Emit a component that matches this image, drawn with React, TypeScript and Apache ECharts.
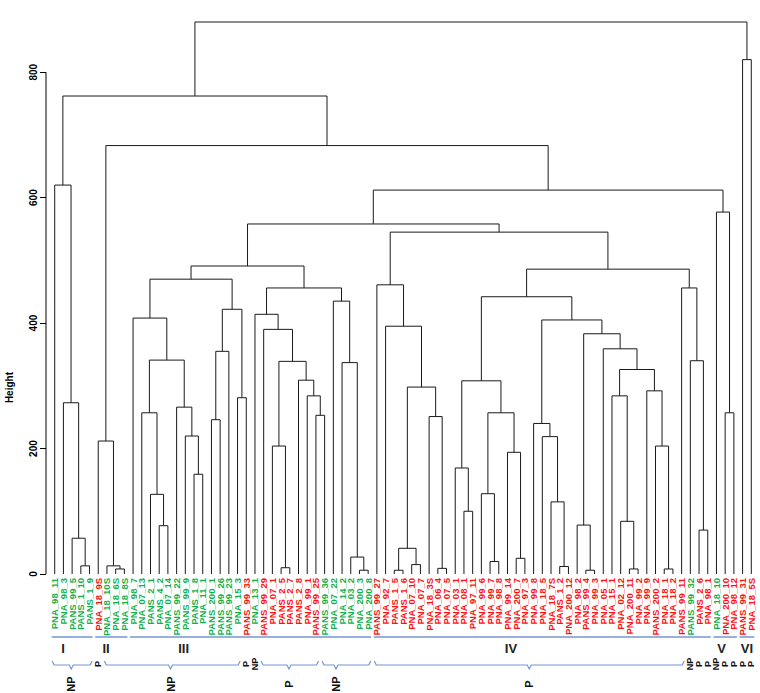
import React, { useEffect, useRef } from "react";
import * as echarts from "echarts";

// ---------- data ----------
const leafLabels = [
  "PNA_98_11","PNA_98_3","PANS_99_5","PANS_1_10","PANS_1_9","PNA_18_9S","PNA_18_10S","PNA_18_6S","PNA_18_8S",
  "PNA_98_7","PNA_07_13","PANS_2_1","PANS_4_2","PNA_07_14","PANS_99_22","PANS_99_9","PANS_1_8","PNA_11_1",
  "PANS_200_1","PANS_99_26","PANS_99_23","PNA_15_3","PANS_99_33","PNA_13_1","PANS_99_29","PNA_07_1","PANS_2_5",
  "PANS_2_7","PANS_2_8","PNA_99_1","PANS_99_25","PANS_99_36","PNA_07_22","PNA_14_2","PNA_03_2","PNA_200_3",
  "PNA_200_8","PANS_99_27","PNA_92_7","PANS_1_5","PANS_1_6","PNA_07_10","PNA_07_7","PNA_18_3S","PNA_06_4",
  "PNA_07_5","PNA_03_1","PNA_08_1","PNA_97_11","PNA_99_6","PNA_99_7","PNA_98_8","PNA_99_14","PNA_200_7",
  "PNA_97_3","PNA_99_8","PNA_18_5","PNA_18_7S","PANS_1_2","PNA_200_12","PNA_98_2","PANS_99_4","PNA_99_3",
  "PNA_05_1","PNA_15_1","PNA_02_12","PNA_200_11","PNA_99_2","PNA_99_9","PANS_200_2","PNA_18_1","PNA_18_2",
  "PANS_99_11","PANS_99_32","PANS_2_6","PNA_98_1","PNA_18_10","PNA_200_10","PNA_98_12","PANS_99_31","PNA_18_5S",
];

const leafGroup = [
  "NP","NP","NP","NP","NP","P","NP","NP","NP",
  "NP","NP","NP","NP","NP","NP","NP","NP","NP",
  "NP","NP","NP","NP","P","NP","P","P","P",
  "P","P","P","P","NP","NP","NP","NP","NP",
  "NP","P","P","P","P","P","P","P","P",
  "P","P","P","P","P","P","P","P","P",
  "P","P","P","P","P","P","P","P","P",
  "P","P","P","P","P","P","P","P","P",
  "P","NP","P","P","NP","P","P","P","P",
];

// hclust-style merges: negative = leaf (1-based position), positive = earlier merge (1-based)
const mergeLeft = [
  -4, -3, -2, -1, -8, -7, -6, -13, -12, -11,
  -17, -16, -15, 10, -10, -19, 16, -22, 17, -27,
  -26, -31, -30, -29, 21, -25, -24, -36, -35, -34,
  -33, 27, 15, 33, -40, -42, 35, -45, -44, 37,
  -39, -38, -48, -47, -51, -50, -54, -53, 46, 44,
  -59, -58, -57, -56, -62, -61, -67, -66, -65, -71,
  -70, -69, 59, -64, 56, 54, 50, -75, -74, -73,
  67, 42, 34, -78, -77, 73, 7, 4, -80, 78,
];
const mergeRight = [
  -5, 1, 2, 3, -9, 5, 6, -14, 8, 9,
  -18, 11, 12, 13, 14, -20, -21, -23, 18, -28,
  20, -32, 22, 23, 24, 25, 26, -37, 28, 29,
  30, 31, 19, 32, -41, -43, 36, -46, 38, 39,
  40, 41, -49, 43, -52, 45, -55, 47, 48, 49,
  -60, 51, 52, 53, -63, 55, -68, 57, 58, -72,
  60, 61, 62, 63, 64, 65, 66, -76, 68, 69,
  70, 71, 72, -79, 74, 75, 76, 77, -81, 79,
];
const mergeHeight = [
  13, 57, 273, 620, 8, 13, 212, 77, 127, 257,
  159, 220, 266, 341, 408, 246, 355, 281, 422, 10,
  204, 253, 284, 309, 339, 390, 414, 6, 27, 337,
  435, 456, 470, 491, 6, 15, 41, 9, 251, 298,
  395, 461, 100, 169, 20, 128, 25, 194, 257, 308,
  12, 115, 219, 240, 6, 78, 8, 84, 284, 8,
  204, 292, 326, 359, 383, 405, 442, 70, 340, 456,
  486, 545, 558, 257, 577, 612, 683, 762, 820, 880,
];

const yTicks = [0, 200, 400, 600, 800];
const yTitle = "Height";

const clusterNames = ["I", "II", "III", "IV", "V", "VI"];
const clusterFrom = [1, 6, 10, 38, 77, 80];
const clusterTo = [5, 9, 37, 76, 79, 81];
const clusterNameAt = [1.95, 6.9, 15.8, 53.4, 77.6, 80.5];

const braceNames = ["NP", "NP", "P", "NP", "P"];
const braceFrom = [1, 7, 25, 32, 38];
const braceTo = [5, 22, 31, 37, 73];
const braceMid = [2.9, 14.3, 27.9, 33.3, 55.5];

const taggedLeaves = [6, 23, 24, 74, 75, 76, 77, 78, 79, 80, 81];

// ---------- colours ----------
const NP_COLOR = "#12b04c";
const P_COLOR = "#ff1010";
const ANNO_BLUE = "#7496d4";
const FONT = "Liberation Sans, Arial, sans-serif";

function buildTreeData() {
  const mx: number[] = [];
  const mh: number[] = [];
  const pos = (r: number) => (r < 0 ? -r : mx[r - 1]);
  const hgt = (r: number) => (r < 0 ? 0 : mh[r - 1]);
  const out: number[][] = [];
  for (let i = 0; i < mergeLeft.length; i++) {
    const a = mergeLeft[i];
    const b = mergeRight[i];
    const xa = pos(a);
    const xb = pos(b);
    out.push([xa, hgt(a), xb, hgt(b), mergeHeight[i]]);
    mx.push((xa + xb) / 2);
    mh.push(mergeHeight[i]);
  }
  return out;
}

export default function App() {
  const ref = useRef<HTMLDivElement>(null);

  useEffect(() => {
    if (!ref.current) return;
    const chart = echarts.init(ref.current, null, { renderer: "svg" });
    const treeData = buildTreeData();
    const nLeaves = leafLabels.length;

    const clusterData = clusterNames.map((_, i) => [clusterFrom[i], clusterTo[i], clusterNameAt[i], i]);
    const braceData = braceNames.map((_, i) => [braceFrom[i], braceTo[i], braceMid[i], i]);
    const tagData = taggedLeaves.map((l) => [l, 0]);

    const option: any = {
      animation: false,
      backgroundColor: "#ffffff",
      grid: { left: 46, top: 22, width: 715.5, height: 552, containLabel: false },
      graphic: [
        {
          type: "text",
          left: 4,
          top: 372,
          rotation: Math.PI / 2,
          style: { text: yTitle, fill: "#000", font: `bold 10px ${FONT}` },
        },
      ],
      xAxis: {
        type: "value",
        min: 0,
        max: nLeaves + 1,
        interval: 1,
        axisLine: { show: false },
        axisTick: { show: false },
        splitLine: { show: false },
        axisLabel: {
          rotate: 90,
          margin: 4,
          fontSize: 9.5,
          fontWeight: "bold",
          fontFamily: FONT,
          showMinLabel: false,
          showMaxLabel: false,
          formatter: (v: number) => leafLabels[v - 1] ?? "",
          color: (v: any) => {
            const g = leafGroup[Number(v) - 1];
            return g === "NP" ? NP_COLOR : P_COLOR;
          },
        },
      },
      yAxis: {
        type: "value",
        min: 0,
        max: 880,
        axisLine: { show: false },
        splitLine: { show: false },
        axisTick: { show: true, length: 6, customValues: yTicks, lineStyle: { color: "#000" } },
        axisLabel: {
          customValues: yTicks,
          rotate: 90,
          margin: 8,
          fontSize: 10,
          fontWeight: "bold",
          fontFamily: FONT,
          color: "#000",
        },
      },
      series: [
        {
          type: "custom",
          name: "dendrogram",
          coordinateSystem: "cartesian2d",
          silent: true,
          data: treeData,
          encode: { x: [0, 2], y: [1, 3, 4] },
          renderItem: (_p: any, api: any) => {
            const p1 = api.coord([api.value(0), api.value(1)]);
            const p2 = api.coord([api.value(0), api.value(4)]);
            const p3 = api.coord([api.value(2), api.value(4)]);
            const p4 = api.coord([api.value(2), api.value(3)]);
            return {
              type: "polyline",
              shape: { points: [p1, p2, p3, p4] },
              style: { stroke: "#1a1a1a", fill: "none", lineWidth: 1 },
            };
          },
        },
        {
          type: "custom",
          name: "yaxisline",
          coordinateSystem: "cartesian2d",
          silent: true,
          data: [[0, yTicks[0], yTicks[yTicks.length - 1]]],
          encode: { x: 0, y: [1, 2] },
          renderItem: (_p: any, api: any) => {
            const a = api.coord([api.value(0), api.value(1)]);
            const b = api.coord([api.value(0), api.value(2)]);
            return {
              type: "line",
              shape: { x1: a[0], y1: a[1], x2: b[0], y2: b[1] },
              style: { stroke: "#000", lineWidth: 1 },
            };
          },
        },
        {
          type: "custom",
          name: "clusters",
          coordinateSystem: "cartesian2d",
          silent: true,
          data: clusterData,
          encode: { x: [0, 1] },
          renderItem: (_p: any, api: any) => {
            const base = api.coord([0, 0])[1];
            const a = api.coord([api.value(0) - 0.35, 0])[0];
            const b = api.coord([api.value(1) + 0.35, 0])[0];
            const c = api.coord([api.value(2), 0])[0];
            const idx = api.value(3);
            return {
              type: "group",
              children: [
                {
                  type: "line",
                  shape: { x1: a, y1: base + 63, x2: b, y2: base + 63 },
                  style: { stroke: ANNO_BLUE, lineWidth: 1.5 },
                },
                {
                  type: "text",
                  x: c,
                  y: base + 74,
                  style: {
                    text: clusterNames[idx],
                    fill: "#222",
                    font: `bold 13px ${FONT}`,
                    align: "center",
                    verticalAlign: "middle",
                  },
                },
              ],
            };
          },
        },
        {
          type: "custom",
          name: "braces",
          coordinateSystem: "cartesian2d",
          silent: true,
          data: braceData,
          encode: { x: [0, 1] },
          renderItem: (_p: any, api: any) => {
            const base = api.coord([0, 0])[1];
            const a = api.coord([api.value(0) - 0.3, 0])[0];
            const b = api.coord([api.value(1) + 0.3, 0])[0];
            const c = api.coord([api.value(2), 0])[0];
            const idx = api.value(3);
            const yb = base + 91;
            return {
              type: "group",
              children: [
                {
                  type: "polyline",
                  shape: {
                    points: [
                      [a, yb - 4], [a + 2, yb], [c - 2, yb], [c, yb + 4],
                      [c + 2, yb], [b - 2, yb], [b, yb - 4],
                    ],
                  },
                  style: { stroke: ANNO_BLUE, fill: "none", lineWidth: 1.2 },
                },
                {
                  type: "text",
                  x: c,
                  y: base + 110,
                  rotation: Math.PI / 2,
                  style: {
                    text: braceNames[idx],
                    fill: "#111",
                    font: `bold 11px ${FONT}`,
                    align: "center",
                    verticalAlign: "middle",
                  },
                },
              ],
            };
          },
        },
        {
          type: "custom",
          name: "tags",
          coordinateSystem: "cartesian2d",
          silent: true,
          data: tagData,
          encode: { x: 0 },
          renderItem: (_p: any, api: any) => {
            const base = api.coord([0, 0])[1];
            const leaf = api.value(0);
            const x = api.coord([leaf, 0])[0];
            return {
              type: "text",
              x,
              y: base + 90,
              rotation: Math.PI / 2,
              style: {
                text: leafGroup[leaf - 1],
                fill: "#111",
                font: `bold 9px ${FONT}`,
                align: "center",
                verticalAlign: "middle",
              },
            };
          },
        },
      ],
    };

    chart.setOption(option);
    return () => chart.dispose();
  }, []);

  return (
    <div
      ref={ref}
      style={{ position: "absolute", left: 0, top: 0, width: 760, height: 693 }}
    />
  );
}
